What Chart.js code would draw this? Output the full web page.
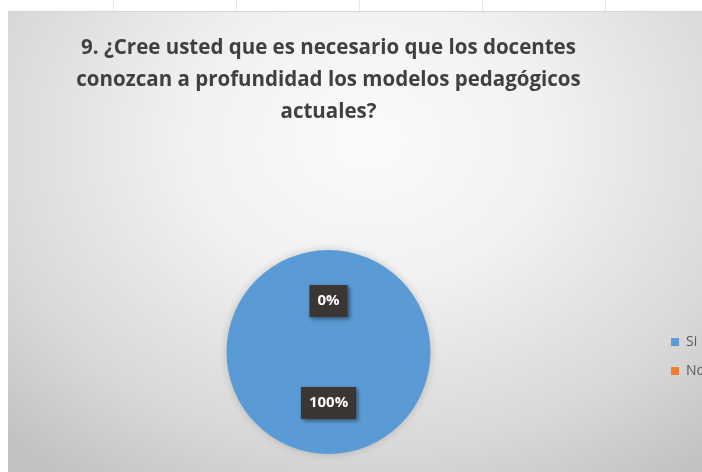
<!DOCTYPE html>
<html>
<head>
<meta charset="utf-8">
<script src="https://cdn.jsdelivr.net/npm/chart.js@4.4.1/dist/chart.umd.min.js"></script>
<style>
    html, body { margin: 0; padding: 0; background: #fff; overflow: hidden; }
    body { width: 702px; height: 472px; position: relative; }
    #ruler {
        position: absolute; left: 0; top: 0; width: 702px; height: 11px;
        background: repeating-linear-gradient(to right, transparent 0 113px, #e6e6e6 113px 114px, transparent 114px 123px);
    }
    #frame {
        position: absolute; left: 8px; top: 11px; width: 694px; height: 461px;
        overflow: hidden;
        border-top: 1px solid #d6d6d6;
        box-sizing: border-box;
        background: radial-gradient(ellipse 75% 90% at 52% 28%, #fbfbfb 0%, #f1f1f1 35%, #d8d8d8 75%, #c2c2c2 100%);
    }
    #chart { position: absolute; left: -7px; top: 0; }
</style>
</head>
<body>
<div id="ruler"></div>
<div id="frame">
    <canvas id="chart" width="714" height="460"></canvas>
</div>
<script>
const titleLines = [
    '9. ¿Cree usted que es necesario que los docentes',
    'conozcan a profundidad los modelos pedagógicos',
    'actuales?'
];
const categories = ['Si', 'No'];
const values = [100, 0];
const sliceColors = ['#5B9BD5', '#ED7D31'];

// labels like excel: dark box with white percentage on each slice
const sliceLabels = {
    id: 'sliceLabels',
    afterDatasetsDraw(chart) {
        const ctx = chart.ctx;
        const meta = chart.getDatasetMeta(0);
        const total = values.reduce((a, b) => a + b, 0);
        ctx.save();
        ctx.font = 'bold 15px "Open Sans"';
        ctx.textAlign = 'center';
        ctx.textBaseline = 'middle';
        meta.data.forEach((arc, i) => {
            const pos = arc.tooltipPosition();
            const txt = Math.round(values[i] / total * 100) + '%';
            const w = ctx.measureText(txt).width + 16;
            const h = 32;
            ctx.save();
            ctx.shadowColor = 'rgba(0,0,0,0.45)';
            ctx.shadowBlur = 4;
            ctx.shadowOffsetX = 2;
            ctx.shadowOffsetY = 2;
            ctx.fillStyle = '#3b3634';
            ctx.fillRect(pos.x - w / 2, pos.y - h / 2, w, h);
            ctx.restore();
            ctx.fillStyle = '#ffffff';
            ctx.fillText(txt, pos.x, pos.y);
        });
        ctx.restore();
    }
};

const pieShadow = {
    id: 'pieShadow',
    beforeDatasetsDraw(chart) {
        chart.ctx.save();
        chart.ctx.shadowColor = 'rgba(0,0,0,0.18)';
        chart.ctx.shadowBlur = 8;
    },
    afterDatasetsDraw(chart) {
        chart.ctx.restore();
    }
};

new Chart(document.getElementById('chart'), {
    type: 'pie',
    data: {
        labels: categories,
        datasets: [{
            data: values,
            backgroundColor: sliceColors,
            borderWidth: 0,
            radius: 102
        }]
    },
    options: {
        responsive: false,
        animation: false,
        layout: { padding: 0 },
        plugins: {
            title: {
                display: true,
                text: titleLines,
                fullSize: false,
                color: '#404040',
                font: { family: 'Open Sans', size: 20.5, weight: 'bold', lineHeight: 1.56 },
                padding: { top: 20, bottom: 104 }
            },
            legend: {
                position: 'right',
                fullSize: false,
                title: { display: true, text: ' ', font: { size: 1 }, padding: { top: 8, bottom: 0 } },
                labels: {
                    boxWidth: 8,
                    boxHeight: 8,
                    padding: 15,
                    color: '#595959',
                    font: { family: 'Open Sans', size: 14 }
                }
            },
            tooltip: { enabled: false }
        }
    },
    plugins: [pieShadow, sliceLabels]
});
</script>
</body>
</html>
